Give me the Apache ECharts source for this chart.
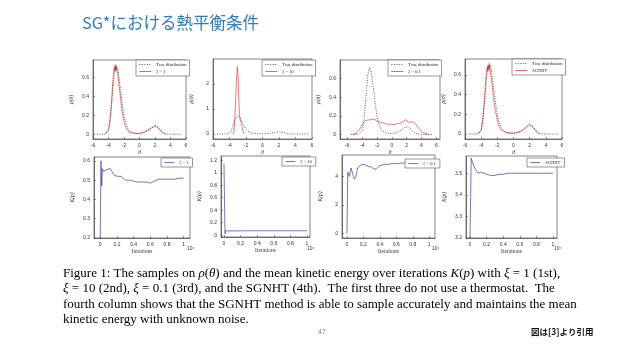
<!DOCTYPE html>
<html><head><meta charset="utf-8">
<script src="https://cdn.jsdelivr.net/npm/echarts@6/dist/echarts.min.js"></script>
<style>html,body{margin:0;padding:0;background:#fff}#c{width:638px;height:359px}</style>
</head><body><div id="c"></div>
<script>
// ---------- data ----------
const thetaTicks = [-6, -4, -2, 0, 2, 4, 6];
const iterTicks = [0, 0.2, 0.4, 0.6, 0.8, 1];
const rhoTicks1 = [0, 0.2, 0.4, 0.6];
const rhoTicks2 = [0, 1, 2];
const rhoTicks3 = [0, 0.2, 0.4, 0.6];
const rhoTicks4 = [0, 0.2, 0.4, 0.6];
const kTicks1 = [0.2, 0.3, 0.4, 0.5, 0.6];
const kTicks2 = [0, 0.2, 0.4, 0.6, 0.8, 1, 1.2];
const kTicks3 = [0, 2, 4];
const kTicks4 = [3.2, 3.3, 3.4, 3.5];
const legendNames = ['ξ = 1', 'ξ = 10', 'ξ = 0.1', 'SGNHT'];

const trueDist = [[-5.5,0],[-5,0],[-4.75,0],[-4.5,0.002],[-4.25,0.01],[-4,0.04],[-3.75,0.16],[-3.5,0.4],[-3.25,0.64],[-3,0.72],[-2.75,0.66],[-2.5,0.5],[-2.25,0.33],[-2,0.19],[-1.75,0.11],[-1.5,0.06],[-1.25,0.035],[-1,0.022],[-0.75,0.015],[-0.5,0.011],[-0.25,0.009],[0,0.009],[0.25,0.011],[0.5,0.015],[0.75,0.022],[1,0.032],[1.25,0.045],[1.5,0.06],[1.75,0.075],[2,0.082],[2.25,0.08],[2.5,0.065],[2.75,0.042],[3,0.02],[3.25,0.007],[3.5,0.002],[3.75,0],[4,0],[4.5,0],[5,0],[5.5,0]];

const samples1 = [[-4.4,0],[-4.2,0.01],[-4.0,0.05],[-3.85,0.13],[-3.7,0.25],[-3.55,0.42],[-3.45,0.55],[-3.35,0.66],[-3.25,0.7],[-3.2,0.66],[-3.15,0.73],[-3.1,0.68],[-3.05,0.72],[-3.0,0.67],[-2.95,0.7],[-2.85,0.64],[-2.75,0.6],[-2.65,0.52],[-2.55,0.45],[-2.45,0.38],[-2.35,0.3],[-2.25,0.24],[-2.1,0.17],[-1.95,0.12],[-1.8,0.08],[-1.7,0.06],[-1.6,0.05],[-1.5,0.03],[-1.4,0.04],[-1.3,0.02],[-1.15,0.025],[-1.0,0.015],[-0.8,0.012],[-0.6,0.008],[-0.4,0.01],[-0.2,0.006],[0,0.01],[0.2,0.012],[0.4,0.018],[0.6,0.025],[0.8,0.035],[1.0,0.04],[1.2,0.05],[1.4,0.06],[1.6,0.07],[1.8,0.08],[1.95,0.088],[2.05,0.082],[2.15,0.09],[2.3,0.078],[2.45,0.065],[2.6,0.048],[2.8,0.03],[3.0,0.012],[3.2,0.004],[3.4,0]];
const samples2 = [[-3.6,0],[-3.45,0.1],[-3.35,0.6],[-3.25,1.4],[-3.15,2.2],[-3.05,2.7],[-3.0,2.5],[-2.95,2.2],[-2.9,1.7],[-2.85,1.2],[-2.8,0.8],[-2.7,0.55],[-2.6,0.5],[-2.5,0.35],[-2.4,0.15],[-2.3,0.03],[-2.2,0]];
const samples3 = [[-5.3,0],[-5.0,0.005],[-4.7,0.02],[-4.4,0.05],[-4.1,0.09],[-3.9,0.12],[-3.7,0.14],[-3.5,0.15],[-3.3,0.16],[-3.1,0.155],[-2.9,0.175],[-2.7,0.16],[-2.5,0.15],[-2.3,0.165],[-2.1,0.14],[-1.9,0.13],[-1.7,0.135],[-1.5,0.12],[-1.3,0.125],[-1.1,0.11],[-0.9,0.115],[-0.7,0.1],[-0.5,0.11],[-0.3,0.095],[-0.1,0.11],[0.1,0.12],[0.3,0.105],[0.5,0.125],[0.7,0.115],[0.9,0.13],[1.1,0.12],[1.3,0.125],[1.5,0.135],[1.7,0.145],[1.9,0.16],[2.0,0.15],[2.2,0.13],[2.4,0.14],[2.6,0.135],[2.8,0.14],[3.0,0.13],[3.2,0.11],[3.4,0.09],[3.6,0.07],[3.8,0.05],[4.0,0.035],[4.2,0.02],[4.5,0.01],[4.8,0.003],[5.0,0]];
const samples4 = [[-4.4,0],[-4.2,0.01],[-4.0,0.04],[-3.85,0.12],[-3.7,0.24],[-3.55,0.4],[-3.45,0.53],[-3.35,0.63],[-3.25,0.68],[-3.2,0.64],[-3.15,0.7],[-3.1,0.66],[-3.05,0.69],[-3.0,0.64],[-2.95,0.7],[-2.85,0.62],[-2.75,0.56],[-2.65,0.5],[-2.55,0.42],[-2.45,0.36],[-2.35,0.29],[-2.25,0.23],[-2.15,0.2],[-2.1,0.22],[-2.05,0.17],[-1.95,0.12],[-1.8,0.08],[-1.6,0.05],[-1.4,0.035],[-1.2,0.025],[-1.0,0.018],[-0.8,0.012],[-0.5,0.01],[-0.2,0.008],[0.1,0.01],[0.4,0.015],[0.7,0.022],[1.0,0.032],[1.2,0.045],[1.4,0.058],[1.6,0.07],[1.75,0.085],[1.85,0.1],[1.95,0.09],[2.05,0.105],[2.15,0.095],[2.25,0.085],[2.4,0.07],[2.55,0.05],[2.7,0.035],[2.9,0.015],[3.1,0.005],[3.3,0]];

const kinetic1 = [[0,0.2],[0.008,0.6],[0.018,0.47],[0.025,0.56],[0.04,0.545],[0.06,0.535],[0.08,0.555],[0.1,0.545],[0.12,0.56],[0.14,0.545],[0.17,0.525],[0.2,0.52],[0.25,0.52],[0.3,0.5],[0.35,0.5],[0.4,0.495],[0.45,0.49],[0.5,0.49],[0.55,0.49],[0.6,0.485],[0.65,0.495],[0.7,0.505],[0.75,0.505],[0.8,0.505],[0.9,0.505],[0.95,0.51],[1.0,0.51]];
const kinetic2 = [[0,1.15],[0.012,0.02],[0.02,0.07],[0.1,0.068],[0.3,0.07],[0.5,0.07],[0.7,0.07],[0.9,0.07],[1.0,0.07]];
const kinetic3 = [[0,0],[0.01,4.3],[0.03,4.0],[0.05,4.6],[0.07,4.2],[0.09,3.8],[0.11,4.0],[0.13,4.6],[0.15,4.7],[0.18,4.85],[0.2,4.75],[0.23,4.8],[0.26,4.7],[0.3,4.65],[0.33,4.5],[0.36,4.55],[0.4,4.75],[0.45,4.85],[0.5,4.85],[0.55,4.9],[0.6,4.9],[0.7,4.95],[0.8,4.95],[1.0,4.95]];
const kinetic4 = [[0,3.2],[0.015,3.57],[0.03,3.55],[0.05,3.53],[0.08,3.51],[0.1,3.5],[0.13,3.505],[0.17,3.5],[0.2,3.495],[0.25,3.49],[0.3,3.49],[0.35,3.495],[0.4,3.495],[0.45,3.5],[0.5,3.5],[0.6,3.5],[0.7,3.5],[0.8,3.5],[0.9,3.5],[1.0,3.5]];

// ---------- layout ----------
const topSamples = [samples1, samples2, samples3, samples4];
const topYTicks = [rhoTicks1, rhoTicks2, rhoTicks3, rhoTicks4];
const botData = [kinetic1, kinetic2, kinetic3, kinetic4];
const botYTicks = [kTicks1, kTicks2, kTicks3, kTicks4];

const topBoxes = [
  {l:93, t:60, r:186, b:139, xmin:-6, xmax:6, ymin:-0.05, ymax:0.78},
  {l:213, t:59, r:312, b:139, xmin:-6, xmax:6, ymin:-0.2, ymax:3.0},
  {l:340, t:60, r:440, b:139, xmin:-7, xmax:6.5, ymin:-0.05, ymax:0.8},
  {l:465, t:59, r:562, b:139, xmin:-6, xmax:6, ymin:-0.05, ymax:0.76}
];
const botBoxes = [
  {l:94, t:157, r:190, b:238, xmin:-0.075, xmax:1.075, ymin:0.2, ymax:0.62},
  {l:221, t:156, r:310, b:237, xmin:-0.036, xmax:1.036, ymin:-0.03, ymax:1.27},
  {l:342, t:155, r:435, b:238, xmin:-0.06, xmax:1.07, ymin:-0.3, ymax:5.5},
  {l:466, t:156, r:557, b:238, xmin:-0.048, xmax:1.048, ymin:3.2, ymax:3.58}
];
const topLegendPos = [{l:136,t:60},{l:262,t:60},{l:388,t:60},{l:512,t:59}];
const botLegendPos = [{l:161,t:158},{l:282,t:157},{l:405,t:159},{l:527,t:158}];

const grid = [], xAxis = [], yAxis = [], series = [], legend = [];
const tickFont = {fontSize: 5, color: '#333', fontFamily: 'Liberation Sans'};
const fmt = v => String(+v.toFixed(2));

function addPanel(box, xt, yt, xName, yName) {
  const i = grid.length;
  grid.push({left: box.l, top: box.t, width: box.r - box.l, height: box.b - box.t,
    show: true, borderColor: '#333', borderWidth: 0.6, backgroundColor: '#fff'});
  xAxis.push({type: 'value', gridIndex: i, min: box.xmin, max: box.xmax,
    axisLine: {onZero: false, lineStyle: {color: '#333', width: 0.6}},
    axisTick: {inside: true, length: 2, customValues: xt, lineStyle: {color: '#333', width: 0.5}},
    axisLabel: Object.assign({customValues: xt, formatter: fmt, margin: 4, showMinLabel: true, showMaxLabel: true}, tickFont),
    splitLine: {show: false},
    name: xName, nameLocation: 'middle', nameGap: 11,
    nameTextStyle: {fontSize: 5.5, color: '#333', fontFamily: 'Liberation Serif', fontStyle: xName === 'θ' ? 'italic' : 'normal'}});
  yAxis.push({type: 'value', gridIndex: i, min: box.ymin, max: box.ymax,
    axisLine: {onZero: false, lineStyle: {color: '#333', width: 0.6}},
    axisTick: {inside: true, length: 2, customValues: yt, lineStyle: {color: '#333', width: 0.5}},
    axisLabel: Object.assign({customValues: yt, formatter: fmt, margin: 4}, tickFont),
    splitLine: {show: false},
    name: yName, nameLocation: 'middle', nameGap: 18,
    nameTextStyle: {fontSize: 5.5, color: '#333', fontFamily: 'Liberation Serif', fontStyle: 'italic'}});
  return i;
}

const legendCommon = {orient: 'vertical', itemWidth: 12, itemHeight: 4, itemGap: 2,
  padding: [2, 3], borderColor: '#333', borderWidth: 0.5, backgroundColor: '#fff',
  itemStyle: {opacity: 0}, lineStyle: {width: 0.7},
  textStyle: {fontSize: 4.5, color: '#222', fontFamily: 'Liberation Serif'}, selectedMode: false};

for (let k = 0; k < 4; k++) {
  const i = addPanel(topBoxes[k], thetaTicks, topYTicks[k], 'θ', 'ρ(θ)');
  series.push({name: 'True distribution', type: 'line', xAxisIndex: i, yAxisIndex: i, data: trueDist,
    symbol: 'none', lineStyle: {color: '#111', width: 0.7, type: [1, 1.5]}, itemStyle: {color: '#111'}, z: 3, silent: true, animation: false});
  series.push({name: legendNames[k], type: 'line', xAxisIndex: i, yAxisIndex: i, data: topSamples[k],
    symbol: 'none', lineStyle: {color: '#e02424', width: 0.6}, itemStyle: {color: '#e02424'}, z: 2, silent: true, animation: false});
  legend.push(Object.assign({}, legendCommon, {left: topLegendPos[k].l, top: topLegendPos[k].t,
    data: ['True distribution', legendNames[k]]}));
}
for (let k = 0; k < 4; k++) {
  const i = addPanel(botBoxes[k], iterTicks, botYTicks[k], 'Iterations', 'K(p)');
  // same visible label as the top row, but a distinct series name (non-breaking space)
  const nm = legendNames[k].replace(/ /g, '\u00a0') + '\u00a0';
  series.push({name: nm, type: 'line', xAxisIndex: i, yAxisIndex: i, data: botData[k],
    symbol: 'none', lineStyle: {color: '#3b3b9e', width: 0.7}, itemStyle: {color: '#3b3b9e'}, z: 2, silent: true, animation: false});
  legend.push(Object.assign({}, legendCommon, {left: botLegendPos[k].l, top: botLegendPos[k].t,
    data: [nm], itemWidth: 10}));
}

const graphic = [
  {type: 'text', left: 82, top: 14, style: {text: 'SG*における熱平衡条件', fontSize: 16.5, fill: '#2f7bc0', fontFamily: 'Noto Sans CJK JP'}},
];
botBoxes.forEach(b => graphic.push({type: 'text', left: b.r - 3, top: 246,
  style: {text: '10⁴', fontSize: 5, fill: '#333', fontFamily: 'Liberation Sans'}}));

const capLines = [
  'Figure 1: The samples on {i|ρ}({i|θ}) and the mean kinetic energy over iterations {i|K}({i|p}) with {i|ξ} = 1 (1st),',
  '{i|ξ} = 10 (2nd), {i|ξ} = 0.1 (3rd), and the SGNHT (4th).  The first three do not use a thermostat.  The',
  'fourth column shows that the SGNHT method is able to sample accurately and maintains the mean',
  'kinetic energy with unknown noise.'
];
capLines.forEach((t, j) => graphic.push({type: 'text', left: 63, top: 267 + j * 15.5,
  style: {text: t, fontSize: 13, fill: '#000', fontFamily: 'Liberation Serif',
    rich: {i: {fontStyle: 'italic', fontSize: 13, fontFamily: 'Liberation Serif', fill: '#000'}}}}));
graphic.push({type: 'text', left: 318, top: 329, style: {text: '47', fontSize: 7, fill: '#888', fontFamily: 'Liberation Sans'}});
graphic.push({type: 'text', left: 531, top: 328, style: {text: '図は[3]より引用', fontSize: 8.5, fontWeight: 'bold', fill: '#111', fontFamily: 'Noto Sans CJK JP'}});

const chart = echarts.init(document.getElementById('c'), null, {renderer: 'canvas'});
chart.setOption({backgroundColor: '#fff', animation: false, grid, xAxis, yAxis, series, legend, graphic});
</script></body></html>
